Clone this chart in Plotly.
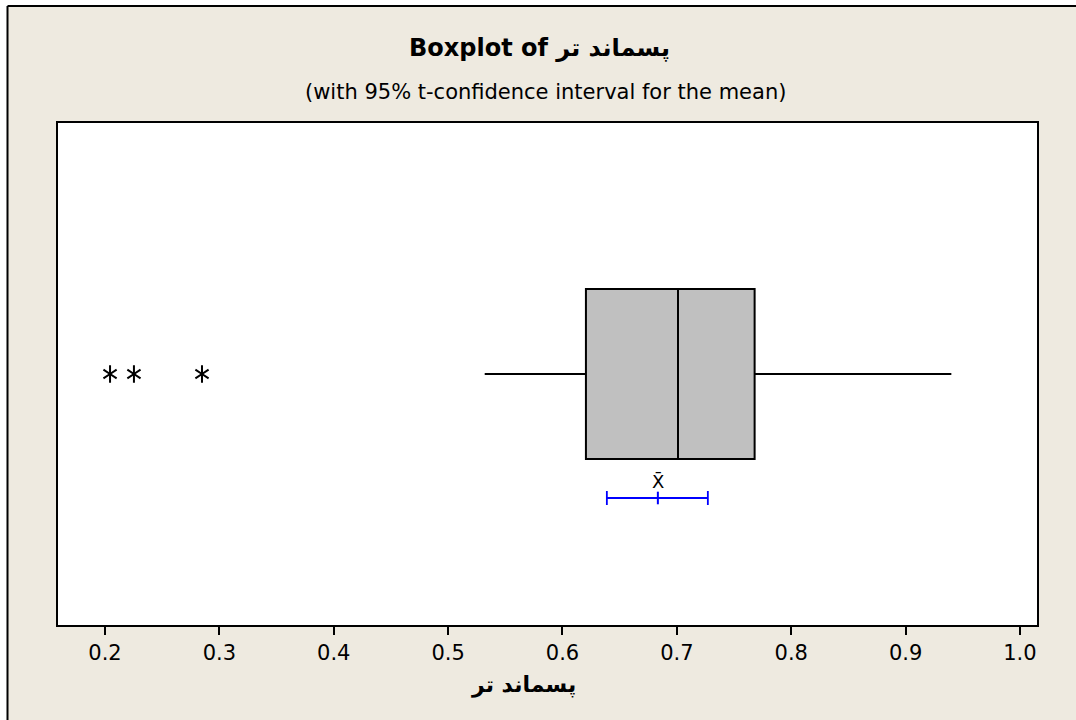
import plotly.graph_objects as go

# Summary statistics of the variable
q1 = [0.6205]
median = [0.701]
q3 = [0.768]
lower_whisker = [0.532]
upper_whisker = [0.940]
outliers = [0.2044, 0.2253, 0.2848]

# 95% t-confidence interval for the mean
mean_value = 0.6834
ci_low = 0.6388
ci_high = 0.7271

tick_values = [0.2, 0.3, 0.4, 0.5, 0.6, 0.7, 0.8, 0.9, 1.0]
tick_labels = ["0.2", "0.3", "0.4", "0.5", "0.6", "0.7", "0.8", "0.9", "1.0"]

title_text = "Boxplot of پسماند تر"
subtitle_text = "(with 95% t-confidence interval for the mean)"
x_label = "پسماند تر"

FONT = "DejaVu Sans"
BEIGE = "#EEEAE0"
BLUE = "#0000FF"

fig = go.Figure()

fig.add_trace(go.Box(
    orientation="h",
    y=[0],
    q1=q1, median=median, q3=q3,
    lowerfence=lower_whisker, upperfence=upper_whisker,
    boxpoints=False,
    width=0.677,
    whiskerwidth=0,
    fillcolor="#C0C0C0",
    line=dict(color="black", width=2),
    showlegend=False,
    hoverinfo="skip",
))

# Outlier asterisks built from two three-armed symbols
for sym in ("y-up-open", "y-down-open"):
    fig.add_trace(go.Scatter(
        x=outliers, y=[0] * len(outliers), mode="markers",
        marker=dict(symbol=sym, size=11, color="black",
                    line=dict(color="black", width=2)),
        showlegend=False, hoverinfo="skip",
    ))

ci_y = -0.494
fig.add_trace(go.Scatter(
    x=[mean_value], y=[ci_y], mode="markers",
    marker=dict(symbol="line-ns-open", size=9, color=BLUE,
                line=dict(color=BLUE, width=2)),
    error_x=dict(type="data", symmetric=False,
                 array=[ci_high - mean_value], arrayminus=[mean_value - ci_low],
                 color=BLUE, thickness=1.8, width=7),
    showlegend=False, hoverinfo="skip",
))

fig.add_annotation(x=mean_value, y=-0.43, xref="x", yref="y",
                   text="X\u0304", showarrow=False, yanchor="middle",
                   font=dict(family=FONT, size=18, color="black"))

fig.add_annotation(x=0.492, y=(625 - 48) / 502, xref="paper", yref="paper",
                   text="<b>" + title_text + "</b>", showarrow=False,
                   xanchor="center", yanchor="middle",
                   font=dict(family=FONT, size=24, color="black"))
fig.add_annotation(x=0.498, y=(625 - 92) / 502, xref="paper", yref="paper",
                   text=subtitle_text, showarrow=False,
                   xanchor="center", yanchor="middle",
                   font=dict(family=FONT, size=21, color="black"))
fig.add_annotation(x=0.475, y=(625 - 685) / 502, xref="paper", yref="paper",
                   text="<b>" + x_label + "</b>", showarrow=False,
                   xanchor="center", yanchor="middle",
                   font=dict(family=FONT, size=22, color="black"))

# Outer frame: white strip on the left/top, black edge lines
fig.add_shape(type="rect", xref="paper", yref="paper",
              x0=-0.1, x1=(7 - 58) / 979, y0=-0.3, y1=1.3,
              fillcolor="white", line_width=0, layer="below")
fig.add_shape(type="rect", xref="paper", yref="paper",
              x0=-0.1, x1=1.1, y0=(625 - 6) / 502, y1=1.3,
              fillcolor="white", line_width=0, layer="below")
fig.add_shape(type="line", xref="paper", yref="paper",
              x0=(7.5 - 58) / 979, x1=(7.5 - 58) / 979,
              y0=(625 - 6) / 502, y1=-0.3,
              line=dict(color="black", width=2))
fig.add_shape(type="line", xref="paper", yref="paper",
              x0=(7.5 - 58) / 979, x1=1.1,
              y0=(625 - 6) / 502, y1=(625 - 6) / 502,
              line=dict(color="black", width=2))

fig.update_layout(
    width=1076, height=720,
    margin=dict(l=58, r=39, t=123, b=95),
    paper_bgcolor=BEIGE,
    plot_bgcolor="white",
    font=dict(family=FONT, size=21, color="black"),
    xaxis=dict(
        range=[0.1589, 1.0149],
        tickvals=tick_values, ticktext=tick_labels,
        ticks="outside", ticklen=8, tickwidth=1.8, tickcolor="black",
        showline=True, linecolor="black", linewidth=1.8, mirror=True,
        showgrid=False, zeroline=False,
        tickfont=dict(family=FONT, size=21),
    ),
    yaxis=dict(
        range=[-1, 1],
        showticklabels=False, ticks="",
        showline=True, linecolor="black", linewidth=1.8, mirror=True,
        showgrid=False, zeroline=False,
    ),
)

fig.write_html("out.html")
